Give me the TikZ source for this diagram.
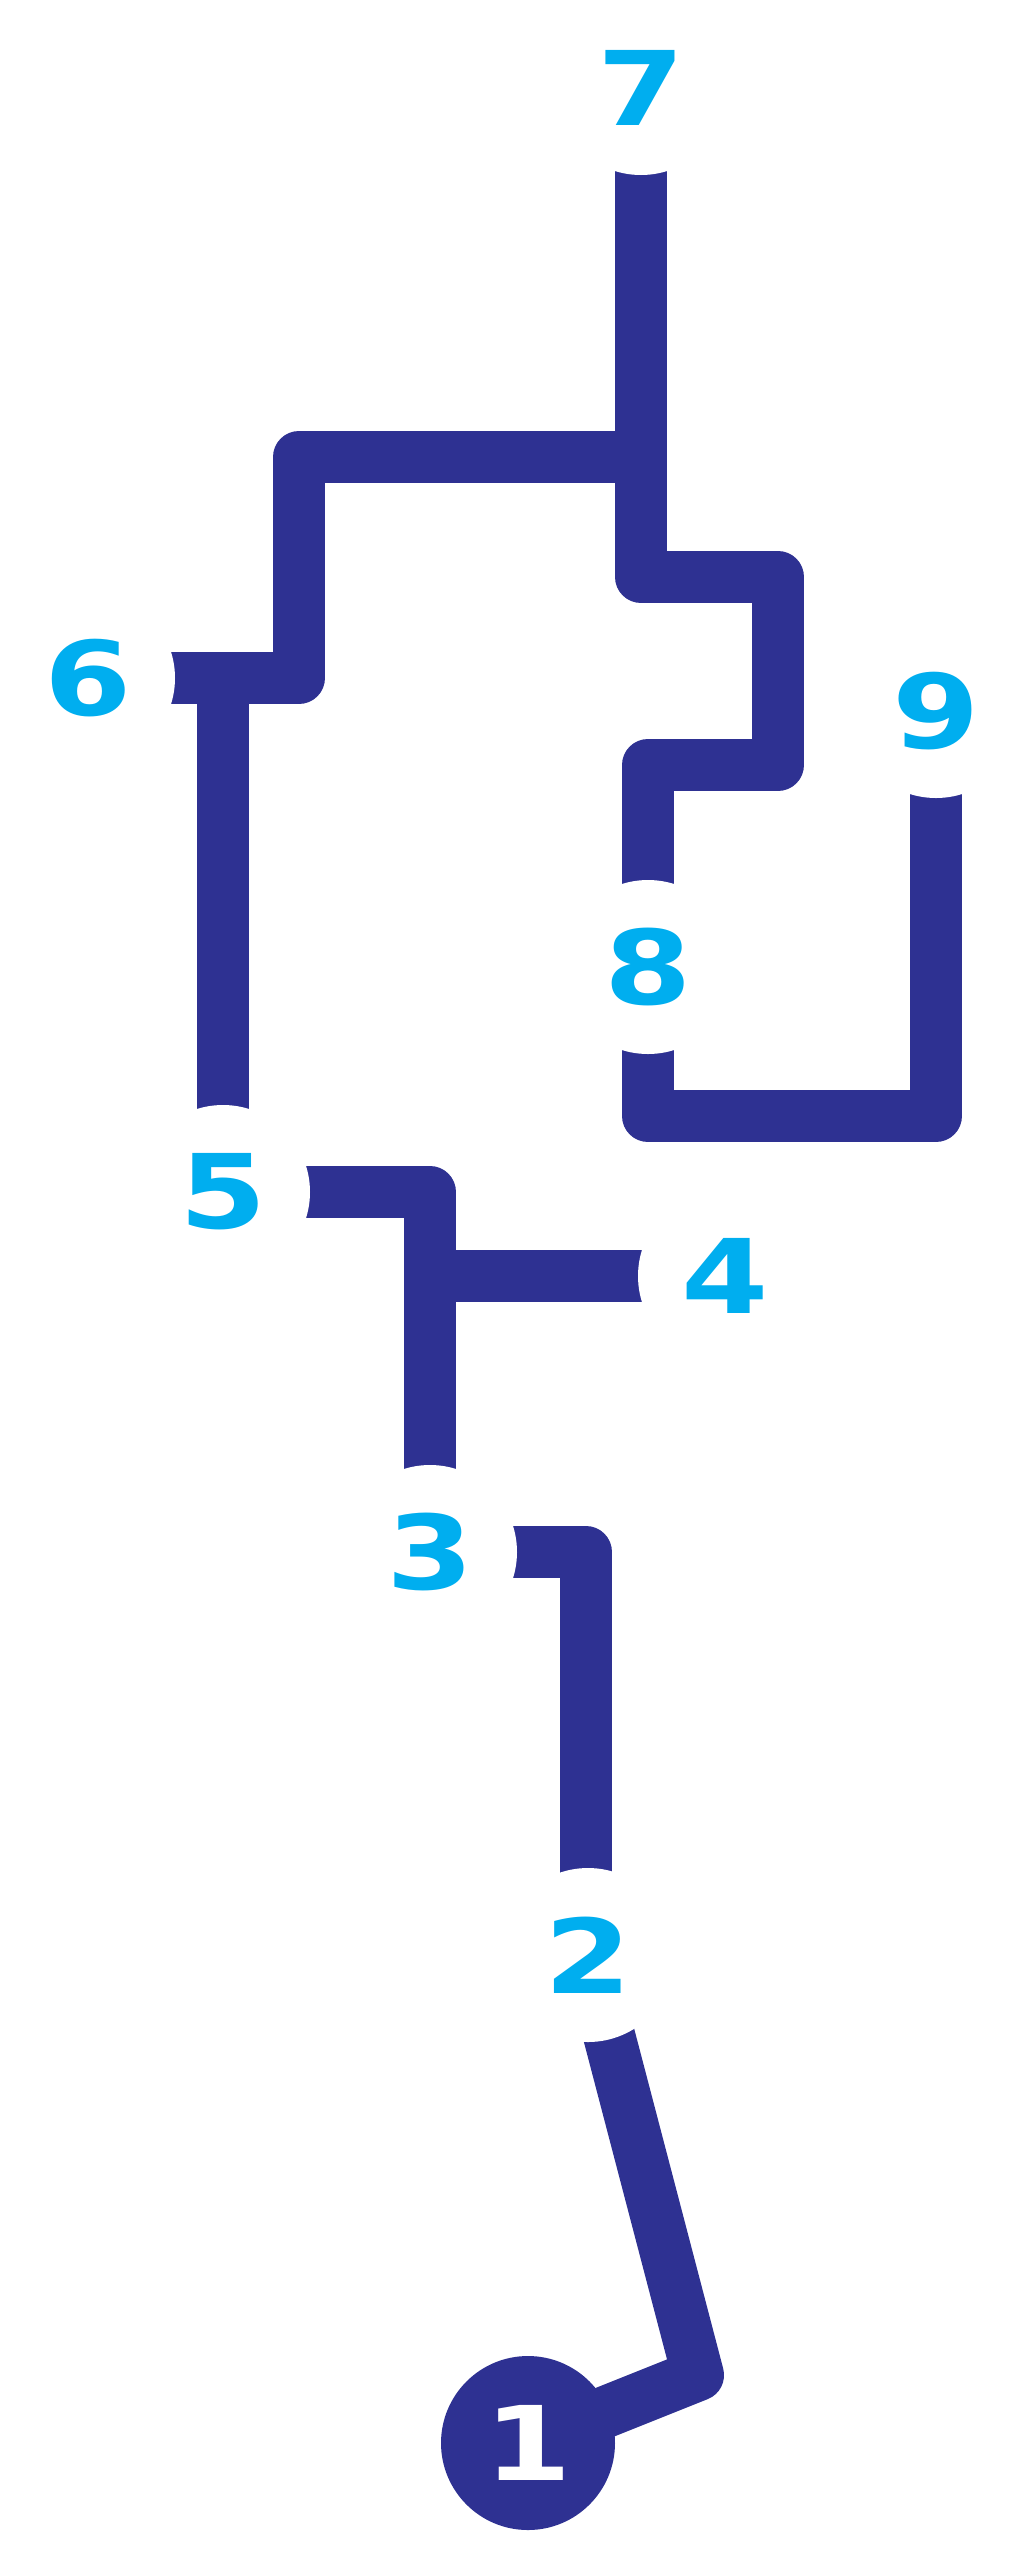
\documentclass[tikz,border=0pt]{standalone}
\usepackage{fontspec}
\newfontfamily\digitfont{DejaVu Sans}
\usetikzlibrary{backgrounds}
\definecolor{navy}{HTML}{2E3192}
\definecolor{cyanb}{HTML}{00AEEF}
\newcommand{\dgt}[1]{\scalebox{1.22}[1]{#1}}
\begin{document}
\begin{tikzpicture}[x=1pt,y=-1pt,
  station/.style={circle, minimum size=174pt, inner sep=0pt, fill=white, text=cyanb,
    font=\digitfont\bfseries\fontsize{103}{103}\selectfont},
  first/.style={station, fill=navy, text=white},
  track/.style={draw=navy, line width=52pt, line join=round}]
\useasboundingbox (0,0) rectangle (1027,2560);
% stations
\node[station] (s7) at (641,88) {\dgt{7}};
\node[station] (s6) at (88,678) {\dgt{6}};
\node[station] (s9) at (936,711) {\dgt{9}};
\node[station] (s8) at (648,967) {\dgt{8}};
\node[station] (s5) at (223,1192) {\dgt{5}};
\node[station] (s4) at (725,1276) {\dgt{4}};
\node[station] (s3) at (430,1552) {\dgt{3}};
\node[station] (s2) at (588,1955) {\dgt{2}};
\node[first]   (s1) at (528,2443) {\dgt{1}};
% junctions
\coordinate (jtop) at (641,457);
\coordinate (j6) at (223,678);
\coordinate (j4) at (430,1276);
\begin{pgfonlayer}{background}
\fill[white] (0,0) rectangle (1027,2560);
\draw[track] (s7.center) -- (641,577) -- (778,577) -- (778,765) -- (648,765) -- (s8.center);
\draw[track] (jtop) -- (299,457) -- (299,678) -- (s6.center);
\draw[track] (j6) -- (s5.center);
\draw[track] (s5.center) -- (430,1192) -- (s3.center);
\draw[track] (j4) -- (s4.center);
\draw[track] (s8.center) -- (648,1116) -- (936,1116) -- (s9.center);
\draw[track] (s3.center) -- (586,1552) -- (586,1955) -- (s2.center);
\draw[track] (s2.center) -- (698,2375) -- (s1.center);
\end{pgfonlayer}
\end{tikzpicture}
\end{document}
